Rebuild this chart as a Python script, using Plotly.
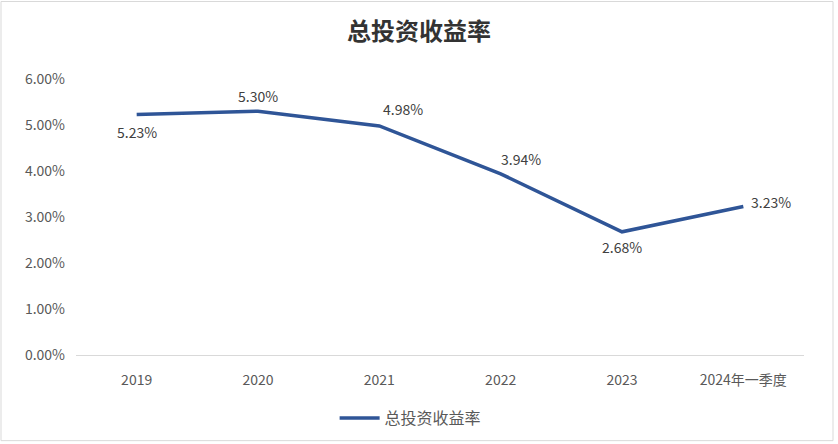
import plotly.graph_objects as go

categories = ["2019", "2020", "2021", "2022", "2023", "2024年一季度"]
values = [5.23, 5.30, 4.98, 3.94, 2.68, 3.23]
y_ticks = [0, 1, 2, 3, 4, 5, 6]
y_tick_labels = ["0.00%", "1.00%", "2.00%", "3.00%", "4.00%", "5.00%", "6.00%"]
series_name = "总投资收益率"
title = "总投资收益率"

# label offsets in pixels (style only)
label_offsets = [(0, -18), (0, 15), (24, 17), (20, 15), (0, -15), (28, 5)]

font_family = "Noto Sans CJK SC, Noto Sans, sans-serif"
positions = list(range(len(categories)))

fig = go.Figure()
fig.add_trace(go.Scatter(
    x=positions,
    y=values,
    mode="lines",
    name=series_name,
    line=dict(color="#2F5597", width=3.5),
    showlegend=True,
))

annotations = []
for p, v, (dx, dy) in zip(positions, values, label_offsets):
    annotations.append(dict(
        x=p, y=v, xref="x", yref="y",
        text=f"{v:.2f}%",
        showarrow=False,
        xshift=dx, yshift=dy,
        font=dict(size=14, color="#404040", family=font_family),
    ))

fig.update_layout(
    width=838,
    height=444,
    margin=dict(l=76, r=34, t=79, b=87),
    paper_bgcolor="white",
    plot_bgcolor="white",
    font=dict(family=font_family, color="#595959", size=14),
    title=dict(
        text=f"<b>{title}</b>",
        x=0.5,
        xanchor="center",
        y=1 - 32 / 444,
        yanchor="middle",
        font=dict(size=24, color="#333333", family=font_family),
    ),
    xaxis=dict(
        range=[-0.5, len(categories) - 0.5],
        autorange=False,
        tickvals=positions,
        ticktext=categories,
        showgrid=False,
        showline=True,
        linecolor="#d9d9d9",
        linewidth=1,
        ticks="",
        tickfont=dict(size=14, color="#595959"),
        ticklabelstandoff=12,
        zeroline=False,
    ),
    yaxis=dict(
        range=[0, 6],
        autorange=False,
        tickvals=y_ticks,
        ticktext=y_tick_labels,
        showgrid=False,
        zeroline=False,
        showline=False,
        ticks="",
        tickfont=dict(size=14, color="#595959"),
        ticklabelstandoff=10,
    ),
    legend=dict(
        orientation="h",
        xref="container",
        x=0.49,
        xanchor="center",
        yref="container",
        y=26 / 444,
        yanchor="middle",
        font=dict(size=16, color="#595959"),
        itemwidth=40,
    ),
    annotations=annotations,
    shapes=[
        dict(
            type="rect",
            xref="paper", yref="paper",
            x0=-75 / 728, x1=1 + 29 / 728,
            y0=-86 / 278, y1=1 + 78 / 278,
            line=dict(color="#d9d9d9", width=1),
            fillcolor="rgba(0,0,0,0)",
            layer="below",
        )
    ],
)

fig.write_html("out.html")
